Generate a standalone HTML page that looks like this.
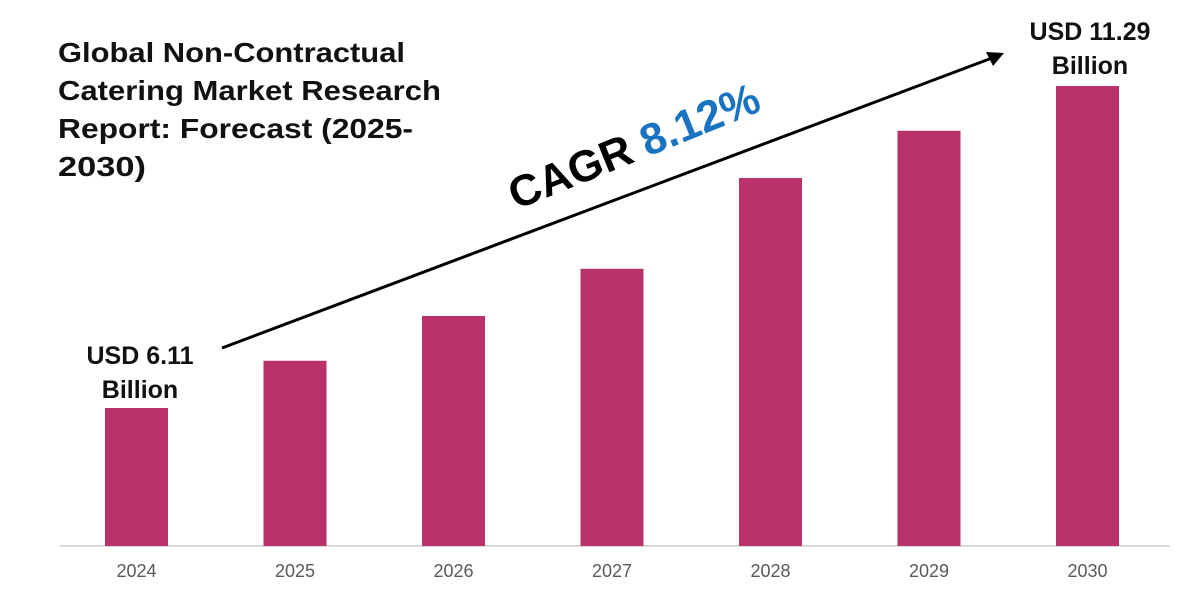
<!DOCTYPE html>
<html><head><meta charset="utf-8"><style>
body{margin:0;background:#fff;}
svg{display:block;font-family:"Liberation Sans",sans-serif;}
</style></head><body>
<svg id="chart" width="1200" height="600">
<text font-size="28" font-weight="bold" fill="#111" lengthAdjust="spacingAndGlyphs">
<tspan x="58" y="62" textLength="347" lengthAdjust="spacingAndGlyphs">Global Non-Contractual</tspan>
<tspan x="58" y="100" textLength="383" lengthAdjust="spacingAndGlyphs">Catering Market Research</tspan>
<tspan x="58" y="138" textLength="355" lengthAdjust="spacingAndGlyphs">Report: Forecast (2025-</tspan>
<tspan x="58" y="176" textLength="88" lengthAdjust="spacingAndGlyphs">2030)</tspan>
</text>
<line x1="60" y1="546" x2="1170" y2="546" stroke="#d9d9d9" stroke-width="2"/>
<g id="bars"></g>
<g id="labels"></g>
<line x1="222" y1="348" x2="992" y2="58" stroke="#000" stroke-width="3"/>
<polygon points="1004,53 986,52 993,66" fill="#000"/>
<text transform="translate(516,210) rotate(-22)" font-size="44" font-weight="bold"><tspan fill="#000">CAGR </tspan><tspan fill="#1a73c0">8.12%</tspan></text>
<text font-size="25" font-weight="bold" text-anchor="middle" fill="#111"><tspan x="140" y="364">USD 6.11</tspan><tspan x="140" y="398">Billion</tspan></text>
<text font-size="25" font-weight="bold" text-anchor="middle" fill="#111"><tspan x="1090" y="40">USD 11.29</tspan><tspan x="1090" y="74">Billion</tspan></text>
</svg>
<script>
const categories=["2024","2025","2026","2027","2028","2029","2030"];
const values=[6.11,6.87,7.59,8.35,9.81,10.57,11.29];
const base=546, v0=3.89, k=62.16;
function xPos(i){return 136.5+i*158.5;}
function yPos(v){return base-(v-v0)*k;}
const ns="http://www.w3.org/2000/svg";
const bars=document.getElementById('bars'), labels=document.getElementById('labels');
categories.forEach((c,i)=>{
  const r=document.createElementNS(ns,'rect');
  
  
  r.setAttribute('x',xPos(i)-31.5);r.setAttribute('width',63);
  r.setAttribute('y',yPos(values[i]));r.setAttribute('height',base-yPos(values[i]));
  r.setAttribute('fill','#b9336a');
  bars.appendChild(r);
  const t=document.createElementNS(ns,'text');
  
  
  t.setAttribute('x',xPos(i));t.setAttribute('y',577);
  t.setAttribute('text-anchor','middle');t.setAttribute('font-size','18');t.setAttribute('fill','#595959');
  t.textContent=c;
  labels.appendChild(t);
});
</script>
</body></html>
